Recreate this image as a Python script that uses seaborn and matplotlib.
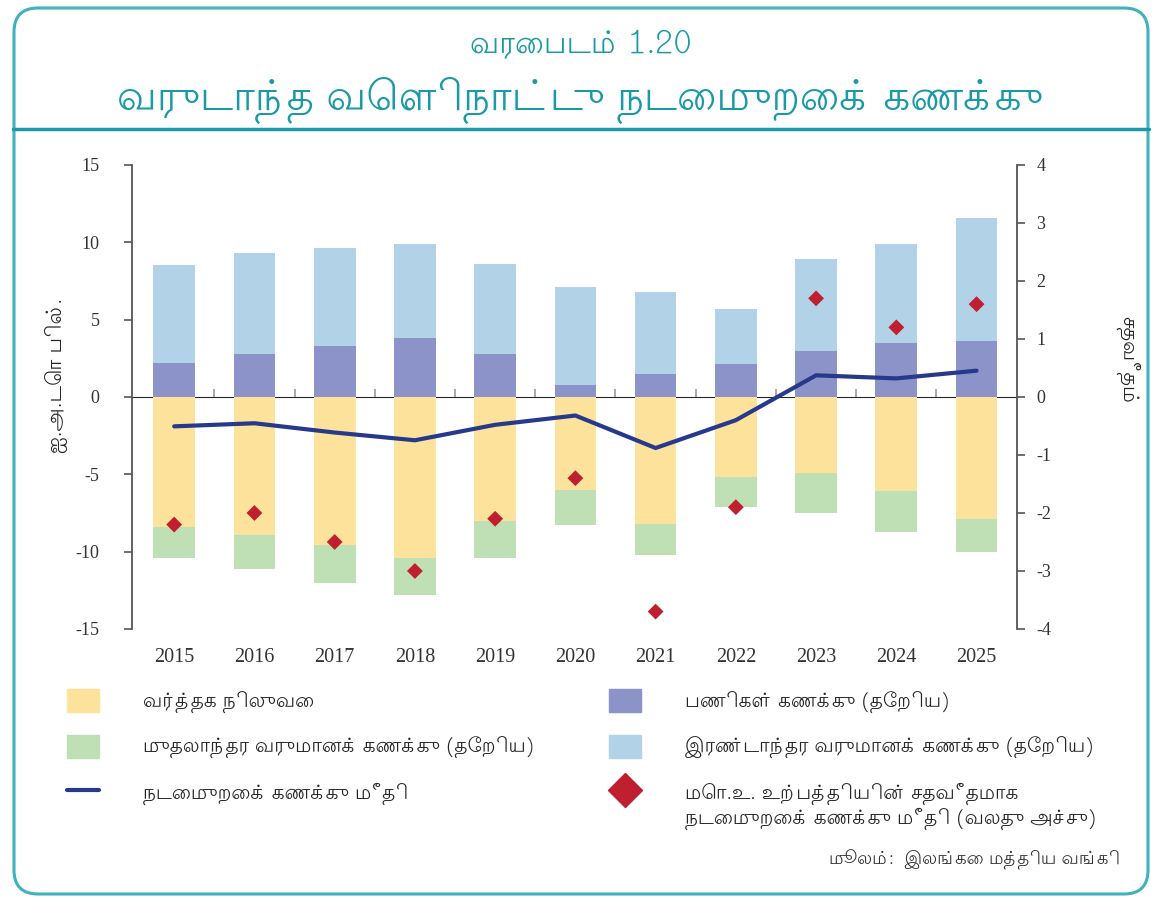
import numpy as np
import matplotlib
matplotlib.use("Agg")
import matplotlib.pyplot as plt
from matplotlib.patches import FancyBboxPatch, Patch
from matplotlib.lines import Line2D
import seaborn as sns

# data (US$ bn, right axis = % of GDP)
years = ["2015", "2016", "2017", "2018", "2019", "2020", "2021", "2022", "2023", "2024", "2025"]
trade = [-8.4, -8.9, -9.6, -10.4, -8.0, -6.0, -8.2, -5.2, -4.9, -6.1, -7.9]
services = [2.2, 2.8, 3.3, 3.8, 2.8, 0.8, 1.5, 2.1, 3.0, 3.5, 3.6]
primary = [-2.0, -2.2, -2.4, -2.4, -2.4, -2.3, -2.0, -1.9, -2.6, -2.6, -2.1]
secondary = [6.3, 6.5, 6.3, 6.1, 5.8, 6.3, 5.3, 3.6, 5.9, 6.4, 8.0]
current_account = [-1.9, -1.7, -2.3, -2.8, -1.8, -1.2, -3.3, -1.5, 1.4, 1.2, 1.7]
ca_pct_gdp = [-2.2, -2.0, -2.5, -3.0, -2.1, -1.4, -3.7, -1.9, 1.7, 1.2, 1.6]

labels = [
    "வர்த்தக நிலுவை",
    "முதலாந்தர வருமானக் கணக்கு (தேறிய)",
    "நடைமுறைக் கணக்கு மீதி",
    "பணிகள் கணக்கு (தேறிய)",
    "இரண்டாந்தர வருமானக் கணக்கு (தேறிய)",
    "மொ.உ. உற்பத்தியின் சதவீதமாக",
]
label_extra = "நடைமுறைக் கணக்கு மீதி (வலது அச்சு)"

C_TRADE = "#FDE29B"
C_SERV = "#8C93C9"
C_PRIM = "#BEE0B4"
C_SEC = "#B2D2E8"
C_LINE = "#26398A"
C_DIAM = "#C01F2F"
TEAL = "#1A9AA6"

sns.set_style("white")
plt.rcParams["font.family"] = ["Lohit Tamil", "Noto Sans Tamil", "DejaVu Sans"]
serif = ["Liberation Serif", "DejaVu Serif"]

fig = plt.figure(figsize=(11.61, 8.97), dpi=100)
ax = fig.add_axes([0.1134, 0.2988, 0.7623, 0.5173])

n = len(years)
pos_total = np.array(services) + np.array(secondary)
neg_total = np.array(trade) + np.array(primary)

sns.barplot(x=years, y=pos_total, color=C_SEC, saturation=1, width=0.52, linewidth=0, errorbar=None, ax=ax)
sns.barplot(x=years, y=services, color=C_SERV, saturation=1, width=0.52, linewidth=0, errorbar=None, ax=ax)
sns.barplot(x=years, y=neg_total, color=C_PRIM, saturation=1, width=0.52, linewidth=0, errorbar=None, ax=ax)
sns.barplot(x=years, y=trade, color=C_TRADE, saturation=1, width=0.52, linewidth=0, errorbar=None, ax=ax)

sns.lineplot(x=np.arange(n), y=current_account, color=C_LINE, lw=3, ax=ax, zorder=5)

ax.set_xlim(-0.53, n - 0.5)
ax.set_ylim(-15, 15)
ax.set_yticks([-15, -10, -5, 0, 5, 10, 15])
ax.set_yticklabels(["-15", "-10", "-5", "0", "5", "10", "15"], family=serif, fontsize=13, color="#333333")
ax.set_xticks(np.arange(n))
ax.set_xticklabels(years, family=serif, fontsize=14.5, color="#333333")
ax.tick_params(axis="x", length=0, pad=14)
ax.tick_params(axis="y", direction="out", length=6, width=1.2, color="#555555", left=True, pad=17)
for s in ["top", "right", "bottom"]:
    ax.spines[s].set_visible(False)
ax.spines["left"].set_color("#555555")
ax.spines["left"].set_linewidth(1.3)
ax.set_xlabel("")
ax.set_ylabel("ஐ.அ.டொ பில்.", fontsize=15)
ax.yaxis.set_label_coords(-0.072, 0.547)
ax.grid(False)

# zero line with small ticks between categories
zero = ax.secondary_xaxis(0.5)
zero.set_xticks(np.arange(n - 1) + 0.5)
zero.set_xticklabels([])
zero.tick_params(direction="out", length=6, width=1.2, color="#999999")
zero.spines["bottom"].set_color("#ADADAD")
zero.spines["bottom"].set_linewidth(3)

ax2 = ax.twinx()
sns.scatterplot(x=np.arange(n), y=ca_pct_gdp, marker="D", s=65, color=C_DIAM, edgecolor="none", ax=ax2, zorder=6)
ax2.set_ylim(-4, 4)
ax2.set_yticks(range(-4, 5))
ax2.set_yticklabels([str(v) for v in range(-4, 5)], family=serif, fontsize=13, color="#333333")
ax2.tick_params(axis="y", direction="out", length=6, width=1.2, color="#555555", right=True, pad=8)
for s in ["top", "left", "bottom"]:
    ax2.spines[s].set_visible(False)
ax2.spines["right"].set_color("#555555")
ax2.spines["right"].set_linewidth(1.3)
ax2.set_ylabel("சதவீதம்", fontsize=15, rotation=270)
ax2.yaxis.set_label_coords(1.139, 0.578)
ax2.grid(False)

# title block and frame
fig.text(0.5, 1 - 45 / 897, "வரைபடம் 1.20", ha="center", va="center", fontsize=22, color=TEAL)
fig.text(0.5, 1 - 100 / 897, "வருடாந்த வெளிநாட்டு நடைமுறைக் கணக்கு", ha="center", va="center",
         fontsize=30, color=TEAL)
fig.add_artist(Line2D([13 / 1161, 1149 / 1161], [1 - 129 / 897] * 2, transform=fig.transFigure,
                      color=TEAL, lw=2.5))
fig.add_artist(FancyBboxPatch((14, 3), 1134, 886, boxstyle="round,pad=0,rounding_size=24",
                              transform=None, fill=False, edgecolor="#3FB2BD", lw=2.2))

# legend in two columns
h_left = [Patch(color=C_TRADE), Patch(color=C_PRIM), Line2D([], [], color=C_LINE, lw=3)]
h_right = [Patch(color=C_SERV), Patch(color=C_SEC),
           Line2D([], [], marker="D", ls="none", ms=17, color=C_DIAM)]
leg_kw = dict(frameon=False, fontsize=14.5, handlelength=1.6, handleheight=1.4, handletextpad=2.15,
              labelspacing=1.05, borderpad=0, borderaxespad=0, loc="upper left")
fig.legend(h_left, labels[:3], bbox_to_anchor=(67 / 1161, 1 - 689 / 897), **leg_kw)
fig.legend(h_right, labels[3:], bbox_to_anchor=(609 / 1161, 1 - 689 / 897), **leg_kw)
fig.text(685 / 1161, 1 - 819 / 897, label_extra, ha="left", va="center", fontsize=14.5)

fig.text(1120 / 1161, 1 - 860 / 897, "மூலம்:  இலங்கை மத்திய வங்கி", ha="right", va="center",
         fontsize=13, color="#333333")

fig.savefig("out.png", dpi=100)
